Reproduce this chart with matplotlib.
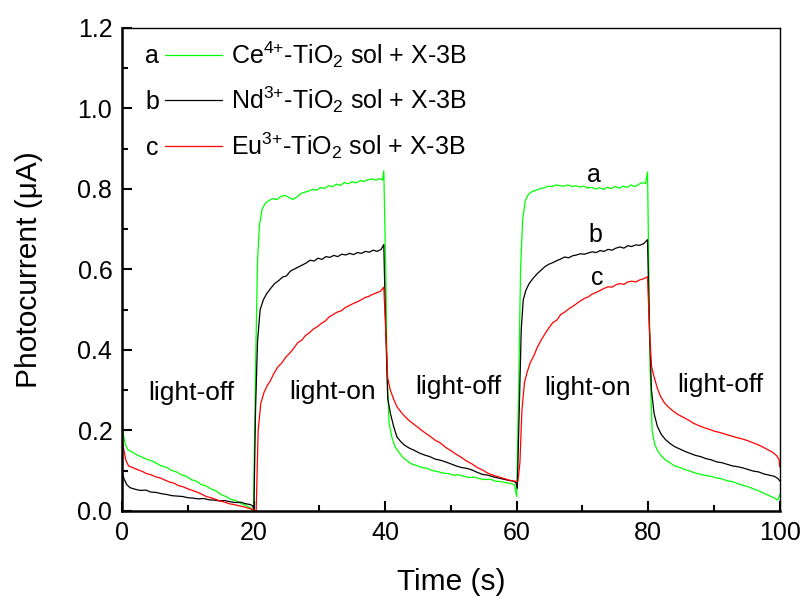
import matplotlib
matplotlib.use('Agg')
import matplotlib.pyplot as plt
from matplotlib.ticker import MultipleLocator

plt.rcParams['font.family'] = ['Liberation Sans', 'DejaVu Sans']
plt.rcParams['mathtext.fontset'] = 'custom'
plt.rcParams['mathtext.rm'] = 'Liberation Sans'
plt.rcParams['mathtext.it'] = 'Liberation Sans:italic'

# ---- a: Ce4+-TiO2 sol (green)
t_a = [0, 0.2, 0.5, 0.9, 1.5, 2.2, 3, 3.8, 4.5, 5.3, 6, 6.8, 7.5, 8.3, 9, 9.8, 10.5, 11.3, 12, 12.8,
       13.5, 14.3, 15, 15.8, 16.5, 17.3, 18, 18.8, 19.5, 20.0,
       20.3, 20.6, 20.9, 21.3, 21.8, 22.4, 23.0, 23.6, 24.2, 24.8, 25.4, 26.0, 26.6, 27.2, 27.8,
       28.4, 29.0, 29.6, 30.2, 30.8, 31.4, 32.0, 32.6, 33.2, 33.8, 34.4, 35.0, 35.6, 36.2, 36.8,
       37.4, 38.0, 38.6, 39.2, 39.6, 39.8,
       40.1, 40.3, 40.6, 41.0, 41.5, 42.0, 42.6, 43.3, 44.0, 44.8, 45.6, 46.4, 47.2, 48.0, 48.8,
       49.6, 50.4, 51.2, 52.0, 52.8, 53.6, 54.4, 55.2, 56.0, 56.8, 57.6, 58.4, 59.2, 59.7, 60.0,
       60.3, 60.6, 60.9, 61.3, 61.8, 62.4, 63.0, 63.6, 64.2, 64.8, 65.4, 66.0, 66.6, 67.2, 67.8,
       68.4, 69.0, 69.6, 70.2, 70.8, 71.4, 72.0, 72.6, 73.2, 73.8, 74.4, 75.0, 75.6, 76.2, 76.8,
       77.4, 78.0, 78.6, 79.2, 79.6, 79.9,
       80.1, 80.3, 80.6, 81.0, 81.5, 82.0, 82.6, 83.3, 84.0, 84.8, 85.6, 86.4, 87.2, 88.0, 88.8,
       89.6, 90.4, 91.2, 92.0, 92.8, 93.6, 94.4, 95.2, 96.0, 96.8, 97.6, 98.4, 99.2, 99.7, 100]
y_a = [0.226, 0.19, 0.165, 0.152, 0.147, 0.140, 0.134, 0.128, 0.125, 0.118, 0.112, 0.108, 0.101,
       0.097, 0.090, 0.086, 0.078, 0.074, 0.066, 0.062, 0.055, 0.050, 0.041, 0.036, 0.029, 0.026,
       0.019, 0.014, 0.008, 0.0,
       0.35, 0.62, 0.71, 0.75, 0.765, 0.772, 0.776, 0.774, 0.782, 0.784, 0.779, 0.774, 0.780,
       0.789, 0.792, 0.795, 0.799, 0.797, 0.804, 0.801, 0.808, 0.806, 0.812, 0.809, 0.816, 0.813,
       0.818, 0.815, 0.821, 0.819, 0.823, 0.825, 0.822, 0.826, 0.822, 0.845,
       0.6, 0.35, 0.22, 0.185, 0.16, 0.148, 0.135, 0.125, 0.117, 0.113, 0.108, 0.106, 0.100,
       0.098, 0.094, 0.093, 0.089, 0.090, 0.086, 0.083, 0.084, 0.080, 0.078, 0.079, 0.074, 0.073,
       0.070, 0.068, 0.064, 0.036,
       0.3, 0.6, 0.72, 0.77, 0.787, 0.794, 0.797, 0.801, 0.803, 0.807, 0.806, 0.810, 0.808,
       0.807, 0.810, 0.806, 0.808, 0.805, 0.807, 0.802, 0.804, 0.800, 0.803, 0.799, 0.804, 0.801,
       0.806, 0.802, 0.807, 0.804, 0.810, 0.806, 0.812, 0.816, 0.813, 0.842,
       0.6, 0.35, 0.2, 0.165, 0.148, 0.137, 0.127, 0.120, 0.112, 0.108, 0.103, 0.099, 0.094,
       0.091, 0.088, 0.086, 0.082, 0.080, 0.075, 0.073, 0.068, 0.064, 0.060, 0.055, 0.050, 0.044,
       0.038, 0.032, 0.027, 0.04]

# ---- b: Nd3+-TiO2 sol (black)
t_b = [0, 0.3, 0.7, 1.2, 2, 2.8, 3.6, 4.4, 5.2, 6, 6.8, 7.6, 8.4, 9.2, 10, 10.8, 11.6, 12.4, 13.2,
       14, 14.8, 15.6, 16.4, 17.2, 18, 18.8, 19.5, 19.9, 20.05,
       20.3, 20.6, 21.0, 21.5, 22.0, 22.6, 23.2, 23.8, 24.4, 25.0, 25.6, 26.2, 26.8, 27.4, 28.0,
       28.6, 29.2, 29.8, 30.4, 31.0, 31.6, 32.2, 32.8, 33.4, 34.0, 34.6, 35.2, 35.8, 36.4, 37.0,
       37.6, 38.2, 38.8, 39.4, 39.8,
       40.1, 40.4, 40.8, 41.3, 41.8, 42.4, 43.0, 43.7, 44.4, 45.2, 46.0, 46.8, 47.6, 48.4, 49.2,
       50.0, 50.8, 51.6, 52.4, 53.2, 54.0, 54.8, 55.6, 56.4, 57.2, 58.0, 58.8, 59.5, 59.9, 60.1,
       60.4, 60.7, 61.0, 61.4, 61.9, 62.5, 63.1, 63.7, 64.3, 64.9, 65.5, 66.1, 66.7, 67.3, 67.9,
       68.5, 69.1, 69.7, 70.3, 70.9, 71.5, 72.1, 72.7, 73.3, 73.9, 74.5, 75.1, 75.7, 76.3, 76.9,
       77.5, 78.1, 78.7, 79.3, 79.9,
       80.2, 80.5, 80.9, 81.4, 82.0, 82.6, 83.3, 84.0, 84.8, 85.6, 86.4, 87.2, 88.0, 88.8, 89.6,
       90.4, 91.2, 92.0, 92.8, 93.6, 94.4, 95.2, 96.0, 96.8, 97.6, 98.4, 99.2, 99.7, 100]
y_b = [0.098, 0.08, 0.066, 0.058, 0.054, 0.051, 0.052, 0.047, 0.046, 0.043, 0.041, 0.038, 0.037,
       0.036, 0.033, 0.032, 0.030, 0.031, 0.028, 0.027, 0.025, 0.026, 0.023, 0.021, 0.022, 0.018,
       0.016, 0.012, 0.0,
       0.25, 0.42, 0.50, 0.525, 0.54, 0.553, 0.565, 0.572, 0.581, 0.584, 0.596, 0.601, 0.606,
       0.611, 0.616, 0.623, 0.621, 0.628, 0.625, 0.632, 0.630, 0.635, 0.632, 0.638, 0.636, 0.640,
       0.637, 0.642, 0.640, 0.645, 0.643, 0.648, 0.645, 0.650, 0.662,
       0.45, 0.28, 0.243, 0.21, 0.184, 0.172, 0.163, 0.156, 0.151, 0.144, 0.139, 0.135, 0.129,
       0.126, 0.122, 0.117, 0.112, 0.108, 0.106, 0.102, 0.096, 0.091, 0.089, 0.085, 0.082, 0.079,
       0.076, 0.074, 0.070, 0.056,
       0.25, 0.45, 0.524, 0.548, 0.565, 0.578, 0.589, 0.598, 0.607, 0.613, 0.617, 0.622, 0.626,
       0.631, 0.629, 0.634, 0.636, 0.639, 0.638, 0.641, 0.644, 0.642, 0.647, 0.645, 0.650, 0.648,
       0.653, 0.656, 0.653, 0.659, 0.657, 0.661, 0.660, 0.664, 0.674,
       0.45, 0.3, 0.242, 0.21, 0.19, 0.178, 0.168, 0.160, 0.154, 0.148, 0.143, 0.138, 0.135,
       0.130, 0.127, 0.122, 0.120, 0.116, 0.112, 0.110, 0.107, 0.103, 0.099, 0.097, 0.092, 0.089,
       0.086, 0.081, 0.075]

# ---- c: Eu3+-TiO2 sol (red)
t_c = [0, 0.3, 0.6, 1.0, 1.6, 2.3, 3.0, 3.7, 4.4, 5.1, 5.8, 6.5, 7.2, 7.9, 8.6, 9.3, 10.0, 10.7,
       11.4, 12.1, 12.8, 13.5, 14.2, 14.9, 15.6, 16.3, 17.0, 17.8, 18.6, 19.4, 20.0, 20.4,
       20.7, 21.1, 21.6, 22.1, 22.6, 23.1, 23.7, 24.3, 24.9, 25.5, 26.1, 26.7, 27.3, 27.9, 28.5,
       29.1, 29.7, 30.3, 30.9, 31.5, 32.1, 32.7, 33.3, 33.9, 34.5, 35.1, 35.7, 36.3, 36.9, 37.5,
       38.1, 38.7, 39.3, 39.8,
       40.1, 40.4, 40.8, 41.3, 41.8, 42.4, 43.0, 43.7, 44.4, 45.2, 46.0, 46.8, 47.6, 48.4, 49.2,
       50.0, 50.8, 51.6, 52.4, 53.2, 54.0, 54.8, 55.6, 56.4, 57.2, 58.0, 58.8, 59.6, 60.2,
       60.5, 60.8, 61.2, 61.6, 62.1, 62.6, 63.1, 63.7, 64.3, 64.9, 65.5, 66.1, 66.7, 67.3, 67.9,
       68.5, 69.1, 69.7, 70.3, 70.9, 71.5, 72.1, 72.7, 73.3, 73.9, 74.5, 75.1, 75.7, 76.3, 76.9,
       77.5, 78.1, 78.7, 79.3, 79.9,
       80.2, 80.5, 80.9, 81.4, 81.9, 82.5, 83.1, 83.8, 84.5, 85.3, 86.1, 86.9, 87.7, 88.5, 89.3,
       90.1, 90.9, 91.7, 92.5, 93.3, 94.1, 94.9, 95.7, 96.5, 97.3, 98.1, 98.9, 99.5, 99.9, 100]
y_c = [0.176, 0.15, 0.125, 0.112, 0.108, 0.103, 0.099, 0.093, 0.090, 0.085, 0.082, 0.077, 0.072,
       0.069, 0.063, 0.060, 0.055, 0.051, 0.047, 0.042, 0.036, 0.033, 0.029, 0.025, 0.022, 0.018,
       0.016, 0.013, 0.010, 0.006, 0.003, 0.0,
       0.2, 0.267, 0.295, 0.312, 0.325, 0.342, 0.358, 0.368, 0.382, 0.392, 0.404, 0.418, 0.424,
       0.436, 0.443, 0.452, 0.458, 0.466, 0.472, 0.482, 0.488, 0.494, 0.497, 0.505, 0.510, 0.515,
       0.519, 0.524, 0.530, 0.533, 0.538, 0.542, 0.546, 0.556,
       0.45, 0.33, 0.30, 0.278, 0.259, 0.246, 0.235, 0.224, 0.215, 0.205, 0.195, 0.186, 0.176,
       0.169, 0.158, 0.150, 0.141, 0.133, 0.124, 0.117, 0.108, 0.102, 0.094, 0.089, 0.085, 0.081,
       0.077, 0.074, 0.074,
       0.12, 0.25, 0.32, 0.345, 0.37, 0.385, 0.405, 0.424, 0.44, 0.455, 0.468, 0.474, 0.488,
       0.494, 0.502, 0.508, 0.515, 0.522, 0.528, 0.532, 0.539, 0.543, 0.548, 0.553, 0.557, 0.556,
       0.562, 0.565, 0.563, 0.569, 0.571, 0.569, 0.574, 0.577, 0.582,
       0.45, 0.36, 0.333, 0.305, 0.284, 0.268, 0.258, 0.248, 0.240, 0.233, 0.226, 0.218, 0.212,
       0.207, 0.203, 0.198, 0.195, 0.191, 0.187, 0.183, 0.180, 0.176, 0.171, 0.166, 0.160, 0.153,
       0.146, 0.138, 0.128, 0.11]

labels = [r'Ce$^{\mathregular{4{+}}}$-TiO$_{\mathregular{2}}$ sol + X-3B',
          r'Nd$^{\mathregular{3{+}}}$-TiO$_{\mathregular{2}}$ sol + X-3B',
          r'Eu$^{\mathregular{3{+}}}$-TiO$_{\mathregular{2}}$ sol + X-3B']
letters = ['a', 'b', 'c']
colors = ['#00ff00', 'black', '#ff0000']

phase_text = ['light-off', 'light-on', 'light-off', 'light-on', 'light-off']
phase_x = [10.6, 32.0, 51.1, 70.8, 91.0]
phase_y = [0.293, 0.296, 0.308, 0.305, 0.313]

curve_tag_x = [71.7, 71.9, 72.3]
curve_tag_y = [0.834, 0.685, 0.578]

fig = plt.figure(figsize=(8.08, 6.03), dpi=100)
ax = fig.add_axes([0.151, 0.1526, 0.814, 0.801])

lines = []
for t, y, c, lab in zip([t_a, t_b, t_c], [y_a, y_b, y_c], colors, labels):
    ln, = ax.plot(t, y, color=c, lw=0.9, label=lab)
    lines.append(ln)

for s, x, y in zip(phase_text, phase_x, phase_y):
    ax.text(x, y, s, fontsize=19, ha='center', va='center')
for s, x, y in zip(letters, curve_tag_x, curve_tag_y):
    ax.text(x, y, s, fontsize=18, ha='center', va='center')

ax.set_xlim(0, 100)
ax.set_ylim(0, 1.2)
ax.xaxis.set_major_locator(MultipleLocator(20))
ax.xaxis.set_minor_locator(MultipleLocator(10))
ax.yaxis.set_major_locator(MultipleLocator(0.2))
ax.yaxis.set_minor_locator(MultipleLocator(0.1))
ax.yaxis.set_major_formatter(plt.FormatStrFormatter('%.1f'))
ax.tick_params(which='both', direction='in', top=False, right=False, labelsize=18, width=1.5)
ax.tick_params(which='major', length=7, pad=7)
ax.tick_params(which='minor', length=4.5)
for side in ['left', 'bottom']:
    ax.spines[side].set_linewidth(1.8)
for side in ['top', 'right']:
    ax.spines[side].set_linewidth(1.0)

ax.set_xlabel('Time (s)', fontsize=21.5, labelpad=17)
ax.set_ylabel('Photocurrent (\u03bcA)', fontsize=21.5, labelpad=25)

leg = ax.legend(handles=lines, loc='upper left', bbox_to_anchor=(0.065, 0.977), frameon=False,
                fontsize=18, handlelength=2.3, handletextpad=0.35, labelspacing=0.6,
                borderaxespad=0, borderpad=0)
for ln in leg.get_lines():
    ln.set_linewidth(0.9)
for s, yy in zip(letters, [0.942, 0.847, 0.752]):
    ax.text(0.046, yy, s, fontsize=18, ha='center', va='center', transform=ax.transAxes)

plt.savefig('out.png', dpi=100)
